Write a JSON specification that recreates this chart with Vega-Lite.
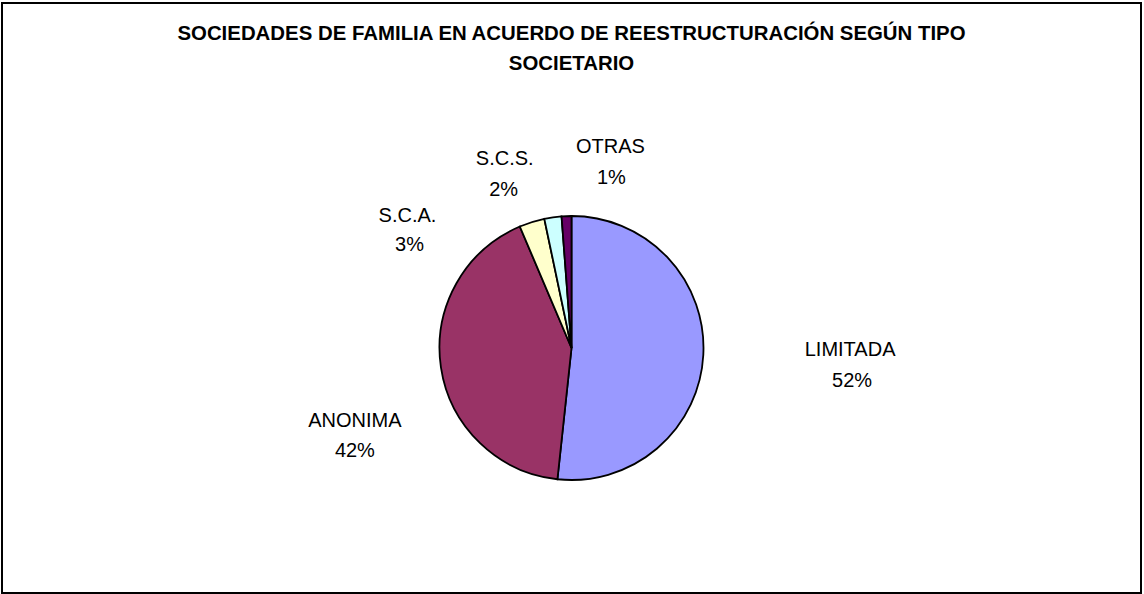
{
  "$schema": "https://vega.github.io/schema/vega-lite/v6.json",
  "background": "#ffffff",
  "padding": {"left": 1, "top": 2, "right": 3, "bottom": 1},
  "spacing": 0,
  "bounds": "flush",
  "config": {
    "text": {"font": "Liberation Sans"}
  },
  "vconcat": [
    {
      "width": 1139,
      "height": 100,
      "view": {"stroke": "#000000", "strokeWidth": 2, "strokeDash": [1239, 1139, 100]},
      "data": {"values": [{"titulo": "SOCIEDADES DE FAMILIA EN ACUERDO DE REESTRUCTURACIÓN SEGÚN TIPO\nSOCIETARIO"}]},
      "mark": {"type": "text", "font": "Liberation Sans", "fontSize": 20.4, "fontWeight": "bold", "lineBreak": "\n", "lineHeight": 29.5, "align": "center", "baseline": "middle", "dy": -19, "color": "#000000"},
      "encoding": {"text": {"field": "titulo", "type": "nominal"}}
    },
    {
      "width": 1139,
      "height": 490,
      "view": {"stroke": "#000000", "strokeWidth": 2, "strokeDash": [0, 1139, 2119]},
      "data": {"values": [
        {"tipo": "LIMITADA", "valor": 0.517, "orden": 1},
        {"tipo": "ANONIMA", "valor": 0.419, "orden": 2},
        {"tipo": "S.C.A.", "valor": 0.031, "orden": 3},
        {"tipo": "S.C.S.", "valor": 0.021, "orden": 4},
        {"tipo": "OTRAS", "valor": 0.012, "orden": 5}
      ]},
      "encoding": {
        "theta": {"field": "valor", "type": "quantitative", "stack": true},
        "order": {"field": "orden", "type": "quantitative"},
        "detail": {"field": "tipo", "type": "nominal"}
      },
      "layer": [
        {
          "mark": {"type": "arc", "radius": 132, "stroke": "#000000", "strokeWidth": 1.8},
          "encoding": {
            "color": {"field": "tipo", "type": "nominal", "legend": null,
              "scale": {"domain": ["LIMITADA", "ANONIMA", "S.C.A.", "S.C.S.", "OTRAS"],
                        "range": ["#9999FF", "#993366", "#FFFFCC", "#CCFFFF", "#660066"]}}
          }
        },
        {
          "mark": {"type": "text", "radius": 280, "dx": -1, "dy": -13, "fontSize": 20, "color": "#000000"},
          "encoding": {"text": {"condition": {"test": "datum.tipo === 'LIMITADA'", "field": "tipo"}, "value": ""}}
        },
        {
          "mark": {"type": "text", "radius": 280, "dx": 1, "dy": 18, "fontSize": 20, "color": "#000000"},
          "encoding": {"text": {"condition": {"test": "datum.tipo === 'LIMITADA'", "field": "valor", "type": "quantitative", "format": ".0%"}, "value": ""}}
        },
        {
          "mark": {"type": "text", "radius": 220, "dx": 1, "dy": 41, "fontSize": 20, "color": "#000000"},
          "encoding": {"text": {"condition": {"test": "datum.tipo === 'ANONIMA'", "field": "tipo"}, "value": ""}}
        },
        {
          "mark": {"type": "text", "radius": 220, "dx": 1, "dy": 71, "fontSize": 20, "color": "#000000"},
          "encoding": {"text": {"condition": {"test": "datum.tipo === 'ANONIMA'", "field": "valor", "type": "quantitative", "format": ".0%"}, "value": ""}}
        },
        {
          "mark": {"type": "text", "radius": 140, "dx": -122, "dy": 1.5, "fontSize": 20, "color": "#000000"},
          "encoding": {"text": {"condition": {"test": "datum.tipo === 'S.C.A.'", "field": "tipo"}, "value": ""}}
        },
        {
          "mark": {"type": "text", "radius": 140, "dx": -120, "dy": 31, "fontSize": 20, "color": "#000000"},
          "encoding": {"text": {"condition": {"test": "datum.tipo === 'S.C.A.'", "field": "valor", "type": "quantitative", "format": ".0%"}, "value": ""}}
        },
        {
          "mark": {"type": "text", "radius": 176, "dx": -42, "dy": -15, "fontSize": 20, "color": "#000000"},
          "encoding": {"text": {"condition": {"test": "datum.tipo === 'S.C.S.'", "field": "tipo"}, "value": ""}}
        },
        {
          "mark": {"type": "text", "radius": 176, "dx": -43, "dy": 16, "fontSize": 20, "color": "#000000"},
          "encoding": {"text": {"condition": {"test": "datum.tipo === 'S.C.S.'", "field": "valor", "type": "quantitative", "format": ".0%"}, "value": ""}}
        },
        {
          "mark": {"type": "text", "radius": 187, "dx": 46, "dy": -14.5, "fontSize": 20, "color": "#000000"},
          "encoding": {"text": {"condition": {"test": "datum.tipo === 'OTRAS'", "field": "tipo"}, "value": ""}}
        },
        {
          "mark": {"type": "text", "radius": 187, "dx": 47, "dy": 17, "fontSize": 20, "color": "#000000"},
          "encoding": {"text": {"condition": {"test": "datum.tipo === 'OTRAS'", "field": "valor", "type": "quantitative", "format": ".0%"}, "value": ""}}
        }
      ]
    }
  ]
}
